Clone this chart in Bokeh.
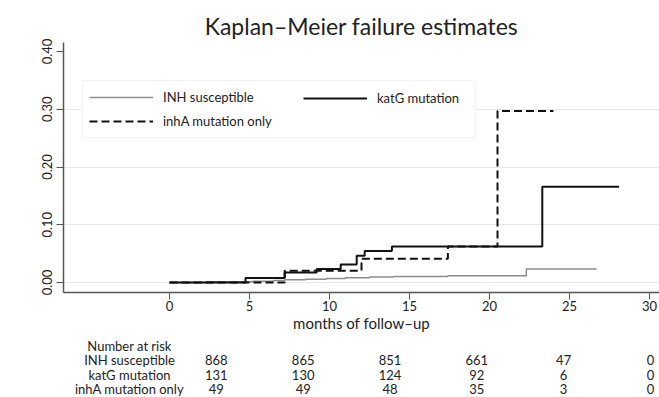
from bokeh.plotting import figure
from bokeh.layouts import column
from bokeh.models import (Range1d, FixedTicker, Legend, LegendItem,
                          ColumnDataSource, NumeralTickFormatter)
from bokeh.core.properties import value
from bokeh.embed import file_html
from bokeh.resources import INLINE

# ---------------- data ----------------
group_names = ["INH susceptible", "katG mutation", "inhA mutation only"]

# Kaplan-Meier failure estimates (step functions: time in months, cumulative failure)
inh_t = [0, 2.3, 5.2, 6.5, 7.2, 8.5, 9.8, 11.0, 12.5, 14.0, 17.4, 22.3, 26.7]
inh_f = [0, 0.0012, 0.0023, 0.0035, 0.0046, 0.0058, 0.0069, 0.0081, 0.0093, 0.0105, 0.0117, 0.0235, 0.0235]

katg_t = [0, 4.75, 7.2, 9.2, 10.7, 11.7, 12.2, 13.9, 23.3, 28.1]
katg_f = [0, 0.0077, 0.0175, 0.0235, 0.031, 0.0464, 0.0545, 0.0625, 0.166, 0.166]

inha_t = [0, 7.2, 12.0, 17.4, 20.5, 24.0]
inha_f = [0, 0.0204, 0.041, 0.0625, 0.297, 0.297]

# number at risk table
risk_times = [0, 6, 12, 18, 24, 30]
risk_inh = [868, 865, 851, 661, 47, 0]
risk_katg = [131, 130, 124, 92, 6, 0]
risk_inha = [49, 49, 48, 35, 3, 0]
risk_header = "Number at risk"

x_ticks = [0, 5, 10, 15, 20, 25, 30]
y_ticks = [0.0, 0.1, 0.2, 0.3, 0.4]
grid_ticks = [0.0, 0.1, 0.2, 0.3]

# ---------------- layout / style ----------------
FONT = "Lato"
TXT = "#222222"
W = 659
H1, H2 = 337, 60
TOP, FRAME_H, LEFT = 42, 250, 63
X0_PX, PX_PER_MONTH = 169, 16.0
LABEL_X = -6.0                       # data x of the row-label column centre

x_start = (LEFT - X0_PX) / PX_PER_MONTH
x_end = (W - X0_PX) / PX_PER_MONTH

p = figure(width=W, height=H1, output_backend="svg", toolbar_location=None,
           x_range=Range1d(x_start, x_end), y_range=Range1d(-0.01733, 0.4156),
           min_border_left=LEFT, min_border_right=0, min_border_top=TOP,
           min_border_bottom=H1 - TOP - FRAME_H)
p.outline_line_color = None

p.title.text = "Kaplan\u2013Meier failure estimates"
p.title.align = "center"
p.title.text_font = FONT
p.title.text_font_size = "23px"
p.title.text_font_style = "normal"
p.title.text_color = TXT
p.title.standoff = 6

for ax in (p.xaxis, p.yaxis):
    ax.axis_line_color = "#555555"
    ax.axis_line_width = 1.5
    ax.major_tick_line_color = "#555555"
    ax.major_tick_out = 7
    ax.major_tick_in = 0
    ax.minor_tick_line_color = None
    ax.major_label_text_font = FONT
    ax.major_label_text_font_size = "13px"
    ax.major_label_text_color = TXT

p.xaxis.ticker = FixedTicker(ticks=x_ticks)
p.xaxis.major_label_standoff = 1
p.xaxis.axis_label = "months of follow\u2013up"
p.xaxis.axis_label_text_font = FONT
p.xaxis.axis_label_text_font_size = "15px"
p.xaxis.axis_label_text_font_style = "normal"
p.xaxis.axis_label_text_color = TXT
p.xaxis.axis_label_standoff = 0

p.yaxis.ticker = FixedTicker(ticks=y_ticks)
p.yaxis.formatter = NumeralTickFormatter(format="0.00")
p.yaxis.major_label_orientation = "vertical"
p.yaxis.major_label_standoff = 4

p.xgrid.visible = False
p.ygrid.ticker = FixedTicker(ticks=grid_ticks)
p.ygrid.grid_line_color = "#e8e8e8"
p.ygrid.grid_line_width = 1

r_inh = p.step(inh_t, inh_f, mode="after", line_color="#8c8c8c", line_width=1.5)
r_katg = p.step(katg_t, katg_f, mode="after", line_color="#111111", line_width=2)
r_inha = p.step(inha_t, inha_f, mode="after", line_color="#111111", line_width=2,
                line_dash="8 4")

# legend: boxed first column, second column overlaid (no box -> no padding)
leg1 = Legend(items=[LegendItem(label=group_names[0], renderers=[r_inh]),
                     LegendItem(label=group_names[2], renderers=[r_inha])],
              location=(19, 154), orientation="vertical",
              glyph_width=64, glyph_height=20, label_height=20, label_width=306,
              label_standoff=10, spacing=4, padding=6, margin=0,
              border_line_color="#e6e6e6", border_line_width=1,
              background_fill_color="white", background_fill_alpha=1,
              label_text_font=FONT, label_text_font_size="13px",
              label_text_color=TXT)
leg2 = Legend(items=[LegendItem(label=group_names[1], renderers=[r_katg])],
              location=(240, 184), orientation="vertical",
              glyph_width=64, glyph_height=20, label_height=20,
              label_standoff=10, spacing=4, padding=6, margin=0,
              border_line_color=None, background_fill_alpha=0,
              label_text_font=FONT, label_text_font_size="13px",
              label_text_color=TXT)
p.add_layout(leg1)
p.add_layout(leg2)

# ---------------- number-at-risk table (second figure, same time scale) ----------------
ROW0_PX, ROW_PX = 8.5, 14.3
t2 = figure(width=W, height=H2, output_backend="svg", toolbar_location=None,
            x_range=Range1d(-X0_PX / PX_PER_MONTH, x_end),
            y_range=Range1d((H2 - ROW0_PX) / ROW_PX, -ROW0_PX / ROW_PX),
            min_border=0, min_border_left=0, min_border_right=0,
            min_border_top=0, min_border_bottom=0)
t2.axis.visible = False
t2.grid.visible = False
t2.outline_line_color = None

tx, ty, tt = [LABEL_X], [0], [risk_header]
for row, (name, counts) in enumerate(zip(group_names, [risk_inh, risk_katg, risk_inha]), start=1):
    tx.append(LABEL_X); ty.append(row); tt.append(name)
    for t, c in zip(risk_times, counts):
        tx.append(t); ty.append(row); tt.append(str(c))
src = ColumnDataSource(dict(x=tx, y=ty, text=tt))
t2.text(x="x", y="y", text="text", source=src, text_align="center",
        text_baseline="middle", text_font=value(FONT),
        text_font_size="13px", text_color=TXT)

layout = column(p, t2, spacing=0)
open("out.html", "w").write(file_html(layout, INLINE))
